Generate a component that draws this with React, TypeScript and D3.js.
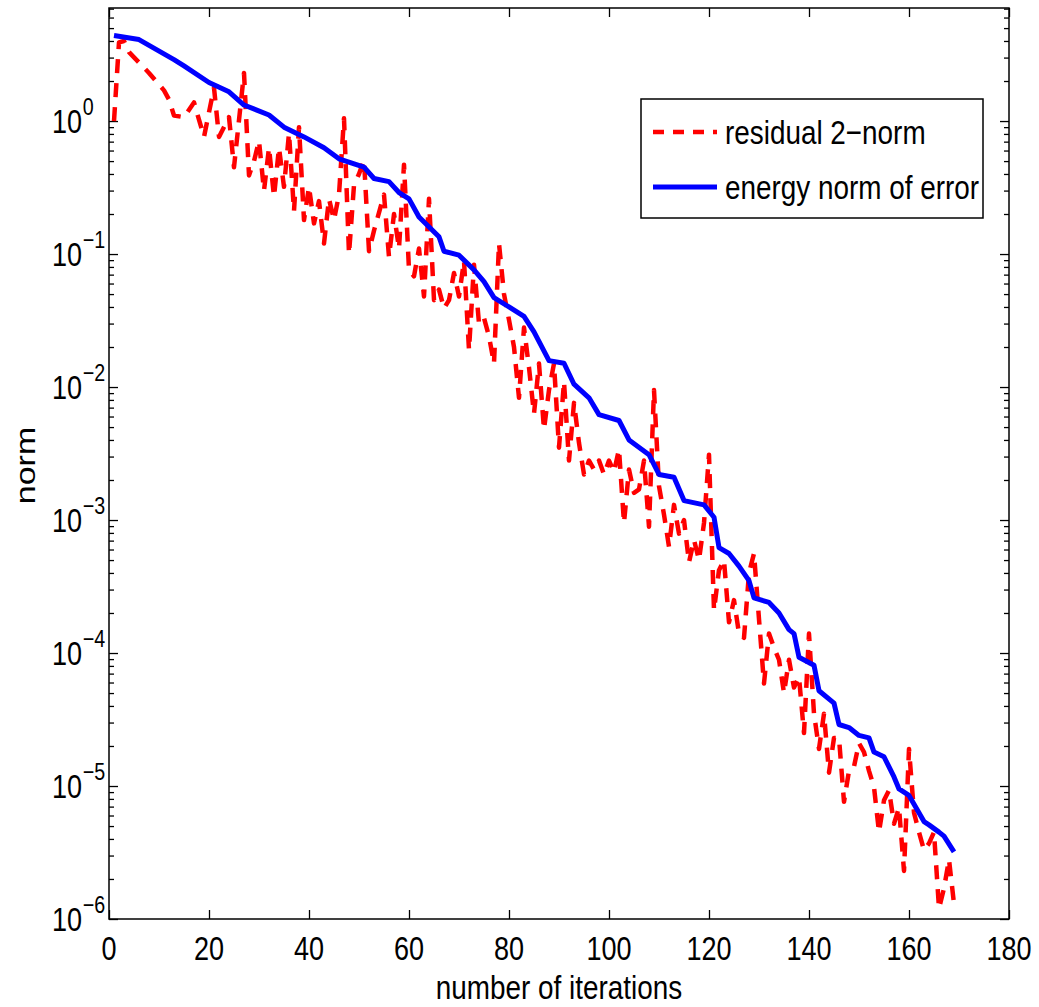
import React, { useEffect, useRef } from 'react';
import * as d3 from 'd3';

// [iteration, residual 2-norm]
const residual: [number, number][] = [
  [1, 1.0], [2, 3.9], [3, 4.0], [4, 3.3], [8, 2.3], [11, 1.7], [12, 1.45], [13, 1.1],
  [15, 1.07], [17, 1.38], [19, 0.76], [21, 1.78], [22, 0.76], [24, 1.07], [25, 0.45],
  [27, 2.3], [28, 0.39], [29, 0.5], [30, 0.71], [31, 0.3], [32, 0.63], [33, 0.27],
  [34, 0.63], [35, 0.32], [36, 0.81], [37, 0.21], [38, 0.9], [39, 0.18], [40, 0.32],
  [41, 0.17], [42, 0.25], [43, 0.12], [44, 0.26], [45, 0.18], [46, 0.28], [47, 1.05],
  [48, 0.1], [49, 0.33], [50, 0.4], [51, 0.51], [52, 0.105], [53, 0.15], [55, 0.28],
  [56, 0.095], [57, 0.2], [58, 0.11], [59, 0.47], [60, 0.076], [61, 0.068], [62, 0.11],
  [63, 0.048], [64, 0.26], [65, 0.045], [66, 0.054], [67, 0.039], [68, 0.045], [69, 0.072],
  [70, 0.048], [71, 0.089], [72, 0.019], [73, 0.083], [74, 0.03], [75, 0.033], [76, 0.024],
  [77, 0.015], [78, 0.12], [79, 0.05], [80, 0.032], [81, 0.02], [82, 0.0083], [83, 0.028],
  [84, 0.014], [85, 0.0063], [86, 0.015], [87, 0.0048], [88, 0.0095], [89, 0.015],
  [90, 0.0035], [91, 0.011], [92, 0.0028], [93, 0.0076], [94, 0.0038], [95, 0.0022],
  [96, 0.0028], [97, 0.0024], [98, 0.0028], [99, 0.0022], [100, 0.0028], [101, 0.0023],
  [102, 0.0034], [103, 0.00095], [104, 0.0024], [105, 0.0016], [106, 0.0017], [107, 0.0028],
  [108, 0.00089], [109, 0.0095], [110, 0.0018], [111, 0.0011], [112, 0.00063], [113, 0.0013],
  [114, 0.00079], [115, 0.001], [116, 0.00048], [117, 0.00071], [118, 0.0005], [119, 0.00095],
  [120, 0.0031], [121, 0.00021], [122, 0.00042], [123, 0.0005], [124, 0.00017], [125, 0.00025],
  [126, 0.00014], [127, 0.00013], [128, 0.0004], [129, 0.00056], [130, 0.00018], [131, 5.9e-5],
  [132, 1.4e-4], [133, 1.1e-4], [134, 8.9e-5], [135, 5.0e-5], [136, 8.9e-5], [137, 5.5e-5],
  [138, 6.6e-5], [139, 2.5e-5], [140, 1.4e-4], [141, 3.5e-5], [142, 1.9e-5], [143, 3.5e-5],
  [144, 1.26e-5], [145, 2.3e-5], [146, 2.3e-5], [147, 7.6e-6], [148, 1.3e-5], [149, 1.4e-5],
  [150, 2.1e-5], [151, 1.8e-5], [152, 1.3e-5], [153, 9.8e-6], [154, 4.5e-6], [155, 7.8e-6],
  [156, 9.3e-6], [157, 5.2e-6], [158, 6.9e-6], [159, 2.3e-6], [160, 1.9e-5], [161, 6.3e-6],
  [162, 4.5e-6], [163, 3.3e-6], [164, 3.7e-6], [165, 4.5e-6], [166, 1.2e-6], [167, 1.7e-6],
  [168, 2.8e-6], [169, 1.3e-6],
];

// [iteration, energy norm of error]
const energy: [number, number][] = [
  [1, 4.4], [6, 4.1], [13, 2.9], [15, 2.6], [20, 1.95], [24, 1.66], [27, 1.32], [32, 1.11],
  [35, 0.9], [39, 0.76], [43, 0.63], [46, 0.52], [51, 0.45], [53, 0.37], [56, 0.35],
  [58, 0.29], [60, 0.26], [62, 0.19], [66, 0.135], [67, 0.105], [70, 0.098], [73, 0.076],
  [75, 0.062], [77, 0.047], [80, 0.04], [83, 0.034], [85, 0.026], [88, 0.0158], [91, 0.0151],
  [93, 0.0105], [96, 0.0083], [98, 0.0062], [102, 0.0056], [104, 0.004], [108, 0.0031],
  [110, 0.0022], [113, 0.0021], [115, 0.0014], [119, 0.0013], [121, 0.00105], [122, 6.2e-4],
  [124, 5.6e-4], [126, 4.5e-4], [128, 3.5e-4], [129, 2.6e-4], [132, 2.4e-4], [134, 2.0e-4],
  [136, 1.5e-4], [137, 1.4e-4], [138, 9.3e-5], [141, 8.1e-5], [142, 5.2e-5], [145, 4.2e-5],
  [146, 2.9e-5], [148, 2.75e-5], [150, 2.4e-5], [152, 2.3e-5], [153, 1.8e-5], [155, 1.66e-5],
  [157, 1.17e-5], [158, 9.5e-6], [160, 8.5e-6], [163, 5.4e-6], [164, 5.1e-6], [166, 4.5e-6],
  [167, 4.2e-6], [169, 3.2e-6],
];

const xTicks = [0, 20, 40, 60, 80, 100, 120, 140, 160, 180];
const yExponents = [-6, -5, -4, -3, -2, -1, 0];
const legendLabels = ['residual 2\u2212norm', 'energy norm of error'];

const W = 1039;
const H = 1007;
const margin = { top: 8, right: 30, bottom: 88, left: 109 };
const SQ = 0.82; // the original picture is squeezed horizontally
const FONT = '"Liberation Sans", Arial, Helvetica, sans-serif';

export default function App() {
  const ref = useRef<SVGSVGElement>(null);

  useEffect(() => {
    const svg = d3.select(ref.current);
    svg.selectAll('*').remove();

    const width = W - margin.left - margin.right;
    const height = H - margin.top - margin.bottom;

    const x = d3.scaleLinear().domain([0, 180]).range([0, width]);
    const y = d3.scaleLog().domain([1e-6, Math.pow(10, 0.85)]).range([height, 0]);

    const g = svg.append('g').attr('transform', `translate(${margin.left},${margin.top})`);

    g.append('defs').append('clipPath').attr('id', 'plot-clip')
      .append('rect').attr('width', width).attr('height', height);

    // minor ticks for the log axis
    const minor: number[] = [];
    yExponents.forEach((e) => {
      for (let m = 2; m <= 9; m++) {
        const v = m * Math.pow(10, e);
        if (v <= y.domain()[1]) minor.push(v);
      }
    });
    const major = yExponents.map((e) => Math.pow(10, e));

    const tickStyle = (sel: any) => {
      sel.select('.domain').remove();
      sel.selectAll('line').attr('stroke', '#000').attr('stroke-width', 1.3);
      sel.selectAll('text').remove();
    };

    g.append('g').attr('transform', `translate(0,${height})`)
      .call(d3.axisBottom(x).tickValues(xTicks).tickSizeInner(-9).tickSizeOuter(0)).call(tickStyle);
    g.append('g')
      .call(d3.axisTop(x).tickValues(xTicks).tickSizeInner(-9).tickSizeOuter(0)).call(tickStyle);
    g.append('g')
      .call(d3.axisLeft(y).tickValues(major).tickSizeInner(-9).tickSizeOuter(0)).call(tickStyle);
    g.append('g')
      .call(d3.axisLeft(y).tickValues(minor).tickSizeInner(-5).tickSizeOuter(0)).call(tickStyle);
    g.append('g').attr('transform', `translate(${width},0)`)
      .call(d3.axisRight(y).tickValues(major).tickSizeInner(-9).tickSizeOuter(0)).call(tickStyle);
    g.append('g').attr('transform', `translate(${width},0)`)
      .call(d3.axisRight(y).tickValues(minor).tickSizeInner(-5).tickSizeOuter(0)).call(tickStyle);

    // lines
    const line = d3.line<[number, number]>()
      .x((d) => x(d[0]))
      .y((d) => y(d[1]));

    const plot = g.append('g').attr('clip-path', 'url(#plot-clip)');
    plot.append('path')
      .datum(residual)
      .attr('d', line)
      .attr('fill', 'none')
      .attr('stroke', '#ff0000')
      .attr('stroke-width', 4.5)
      .attr('stroke-dasharray', '14 10')
      .attr('stroke-linejoin', 'round');
    plot.append('path')
      .datum(energy)
      .attr('d', line)
      .attr('fill', 'none')
      .attr('stroke', '#0000ff')
      .attr('stroke-width', 5)
      .attr('stroke-linejoin', 'round');

    // frame
    g.append('rect')
      .attr('width', width).attr('height', height)
      .attr('fill', 'none').attr('stroke', '#000').attr('stroke-width', 1.5);

    // x tick labels
    g.append('g').selectAll('text').data(xTicks).join('text')
      .attr('transform', (d) => `translate(${x(d)},${height + 41}) scale(${SQ},1)`)
      .attr('text-anchor', 'middle')
      .attr('font-family', FONT).attr('font-size', 33)
      .text((d) => d);

    // y tick labels: 10 with superscript exponent
    const yl = g.append('g').selectAll('g').data(yExponents).join('g')
      .attr('transform', (e) => `translate(-27,${y(Math.pow(10, e)) + 12}) scale(${SQ},1)`)
      .attr('font-family', FONT);
    yl.append('text').attr('text-anchor', 'end').attr('font-size', 33).text('10');
    yl.append('text').attr('x', 1).attr('y', -18).attr('font-size', 24)
      .text((e) => (e < 0 ? '\u2212' + Math.abs(e) : String(e)));

    // axis titles
    g.append('text')
      .attr('transform', `translate(${width / 2},${height + 80}) scale(${SQ},1)`)
      .attr('text-anchor', 'middle')
      .attr('font-family', FONT).attr('font-size', 34)
      .text('number of iterations');
    g.append('text')
      .attr('transform', `translate(${35 - margin.left},${height / 2 + 2}) scale(${SQ},1) rotate(-90)`)
      .attr('text-anchor', 'middle')
      .attr('font-family', FONT).attr('font-size', 34)
      .text('norm');

    // legend
    const lg = svg.append('g').attr('transform', 'translate(641,99)');
    lg.append('rect').attr('width', 342).attr('height', 119)
      .attr('fill', '#fff').attr('stroke', '#000').attr('stroke-width', 1.5);
    const rows = lg.selectAll('g.row').data(legendLabels).join('g')
      .attr('class', 'row')
      .attr('transform', (_, i) => `translate(0,${33 + i * 55})`);
    rows.append('line')
      .attr('x1', 12).attr('x2', 76)
      .attr('stroke', (_, i) => (i === 0 ? '#ff0000' : '#0000ff'))
      .attr('stroke-width', (_, i) => (i === 0 ? 4.5 : 5))
      .attr('stroke-dasharray', (_, i) => (i === 0 ? '11 9' : null));
    rows.append('text')
      .attr('transform', `translate(84,12) scale(${SQ},1)`)
      .attr('font-family', FONT).attr('font-size', 34)
      .text((d) => d);
  }, []);

  return (
    <svg
      ref={ref}
      width={W}
      height={H}
      style={{ position: 'absolute', left: 0, top: 0, background: '#fff', display: 'block' }}
    />
  );
}
